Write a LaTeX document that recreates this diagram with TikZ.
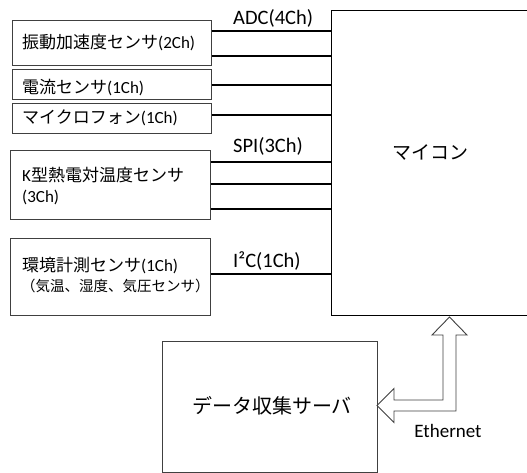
\documentclass[tikz,border=0pt]{standalone}
\usepackage{fontspec}
\setmainfont{Carlito}
\newfontfamily\jp{Noto Sans CJK JP}
\begin{document}
\begin{tikzpicture}[x=1pt,y=-1pt,
  box/.style={draw=black!75, line width=0.9pt, rectangle, inner sep=0pt, anchor=north west},
  conn/.style={line width=1.8pt, black},
  txt/.style={anchor=base west, inner sep=0pt, font=\fontsize{17}{20}\selectfont},
  smalltxt/.style={anchor=base west, inner sep=0pt, font=\fontsize{14.5}{17}\selectfont},
  lbl/.style={anchor=base west, inner sep=0pt, font=\fontsize{20.5}{24}\selectfont},
  arrowshape/.style={draw=black!75, line width=0.9pt, fill=white, line join=miter}]
\useasboundingbox (0,0) rectangle (527,473);
\clip (0,0) rectangle (527,473);
% boxes
\node[box, minimum width=199pt, minimum height=45pt] (b1) at (12,20) {};
\node[box, minimum width=199pt, minimum height=30pt] (b2) at (12,69) {};
\node[box, minimum width=199pt, minimum height=30pt] (b3) at (12,103) {};
\node[box, minimum width=200pt, minimum height=69pt] (b4) at (10,150) {};
\node[box, minimum width=200pt, minimum height=77pt] (b5) at (10,238) {};
\node[box, draw=black, line width=1pt, minimum width=230pt, minimum height=305pt] (mcu) at (331,10) {};
\node[box, minimum width=215pt, minimum height=131pt] (srv) at (162,341) {};
% texts
\node[txt] (t1) at (22,48.5) {{\jp 振動加速度センサ}(2Ch)};
\node[txt] (t2) at (22,94) {{\jp 電流センサ}(1Ch)};
\node[txt] (t3) at (22,123.5) {{\jp マイクロフォン}(1Ch)};
\node[txt] (t4a) at (22,182) {K{\jp 型熱電対温度センサ}};
\node[txt] (t4b) at (22,202) {(3Ch)};
\node[txt] (t5a) at (22,271.5) {{\jp 環境計測センサ}(1Ch)};
\node[smalltxt] (t5b) at (21,291) {{\jp （気温、湿度、気圧センサ）}};
\node[font=\jp\fontsize{19}{22}\selectfont, inner sep=0pt] (tm) at (430,152) {マイコン};
\node[font=\jp\fontsize{20}{24}\selectfont, inner sep=0pt] (ts) at (272,406) {データ収集サーバ};
% labels
\node[lbl] (adc) at (233,24.5) {ADC(4Ch)};
\node[lbl] (spi) at (233,153) {SPI(3Ch)};
\node[lbl] (iic) at (233,267) {I²C(1Ch)};
\node[font=\fontsize{19}{22}\selectfont, inner sep=0pt] (eth) at (448,431) {Ethernet};
% connector levels
\coordinate (ya) at (0,31);
\coordinate (yb) at (0,56);
\coordinate (yc) at (0,85);
\coordinate (yd) at (0,115);
\coordinate (ye) at (0,162);
\coordinate (yf) at (0,184);
\coordinate (yg) at (0,209);
\coordinate (yh) at (0,274);
\draw[conn] (b1.east |- ya) -- (mcu.west |- ya);
\draw[conn] (b1.east |- yb) -- (mcu.west |- yb);
\draw[conn] (b2.east |- yc) -- (mcu.west |- yc);
\draw[conn] (b3.east |- yd) -- (mcu.west |- yd);
\draw[conn] (b4.east |- ye) -- (mcu.west |- ye);
\draw[conn] (b4.east |- yf) -- (mcu.west |- yf);
\draw[conn] (b4.east |- yg) -- (mcu.west |- yg);
\draw[conn] (b5.east |- yh) -- (mcu.west |- yh);
% Ethernet block arrow
\draw[arrowshape] (449.5,317) -- (467,335) -- (456,335) -- (456,411) -- (394,411)
  -- (394,422.5) -- (377,405.5) -- (394,388.5) -- (394,400) -- (443,400)
  -- (443,335) -- (432,335) -- cycle;
\end{tikzpicture}
\end{document}
